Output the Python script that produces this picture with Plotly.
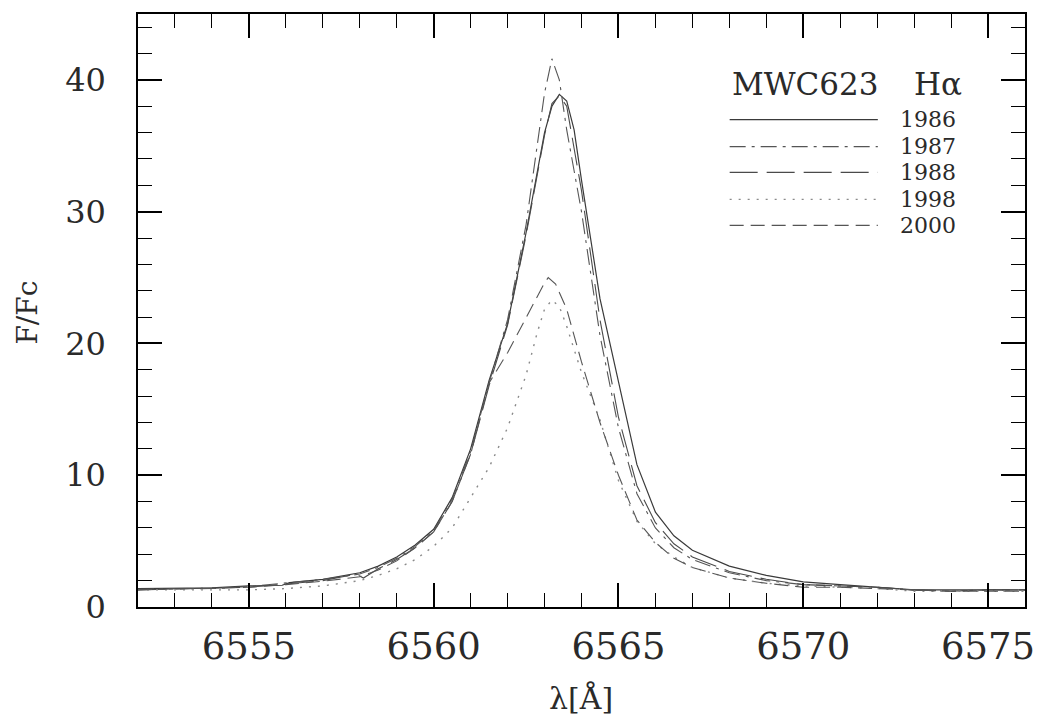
import plotly.graph_objects as go

# ---------------- data ----------------
wl_1986 = [6552, 6553, 6554, 6555, 6555.9, 6556.1, 6557, 6558, 6558.5, 6559, 6559.5, 6560, 6560.5,
           6561, 6561.5, 6562, 6562.5, 6563, 6563.2, 6563.4, 6563.6, 6563.8, 6564, 6564.5, 6565,
           6565.5, 6566, 6566.5, 6567, 6568, 6569, 6570, 6571, 6572, 6573, 6574, 6575, 6576]
f_1986 = [1.4, 1.4, 1.45, 1.6, 1.65, 1.85, 2.1, 2.6, 3.1, 3.8, 4.7, 5.9, 8.3,
          12.0, 17.2, 21.5, 28.4, 36.0, 38.0, 38.9, 38.4, 36.2, 32.4, 23.4, 17.0,
          10.8, 7.2, 5.4, 4.3, 3.1, 2.4, 1.9, 1.7, 1.5, 1.3, 1.3, 1.3, 1.3]

wl_1987 = [6552, 6553, 6554, 6555, 6556, 6557, 6558, 6558.5, 6559, 6559.5, 6560, 6560.5,
           6561, 6561.5, 6562, 6562.5, 6562.8, 6563, 6563.2, 6563.4, 6563.6, 6564, 6564.5, 6565,
           6565.5, 6566, 6566.5, 6567, 6568, 6569, 6570, 6571, 6572, 6573, 6574, 6575, 6576]
f_1987 = [1.35, 1.4, 1.4, 1.55, 1.8, 2.1, 2.5, 3.0, 3.7, 4.6, 5.8, 8.2,
          11.8, 17.0, 21.8, 29.0, 35.0, 39.0, 41.6, 40.0, 36.2, 30.0, 20.6, 13.6,
          8.6, 6.0, 4.5, 3.6, 2.6, 2.0, 1.7, 1.6, 1.5, 1.3, 1.2, 1.3, 1.3]

wl_1988 = [6552, 6553, 6554, 6555, 6556, 6557, 6557.9, 6558.1, 6558.5, 6559, 6559.5, 6560, 6560.5,
           6561, 6561.5, 6562, 6562.5, 6563, 6563.2, 6563.4, 6563.6, 6564, 6564.5, 6565,
           6565.5, 6566, 6566.5, 6567, 6568, 6569, 6570, 6571, 6572, 6573, 6574, 6575, 6576]
f_1988 = [1.3, 1.35, 1.4, 1.5, 1.75, 2.0, 2.5, 2.2, 2.9, 3.6, 4.5, 5.7, 8.0,
          11.6, 16.8, 21.4, 28.2, 35.8, 38.2, 38.8, 38.0, 31.6, 21.8, 14.4,
          9.2, 6.4, 4.8, 3.8, 2.7, 2.1, 1.7, 1.6, 1.5, 1.3, 1.2, 1.3, 1.3]

wl_1998 = [6552, 6553, 6554, 6555, 6556, 6557, 6558, 6558.5, 6559, 6559.5, 6560, 6560.5,
           6561, 6561.5, 6562, 6562.5, 6562.8, 6563, 6563.2, 6563.4, 6563.6, 6564, 6564.5, 6565,
           6565.5, 6566, 6566.5, 6567, 6568, 6569, 6570, 6571, 6572, 6573, 6574, 6575, 6576]
f_1998 = [1.3, 1.3, 1.3, 1.3, 1.4, 1.6, 2.0, 2.4, 2.9, 3.6, 4.6, 6.0,
          8.3, 10.6, 13.6, 17.6, 20.8, 22.6, 23.3, 22.8, 21.3, 17.8, 14.2, 9.6,
          6.5, 4.8, 3.8, 3.0, 2.2, 1.8, 1.6, 1.5, 1.4, 1.2, 1.2, 1.2, 1.2]

wl_2000 = [6552, 6553, 6554, 6555, 6556, 6557, 6558, 6558.5, 6559, 6559.5, 6560, 6560.5,
           6561, 6561.5, 6562, 6562.5, 6562.8, 6563, 6563.1, 6563.3, 6563.6, 6564, 6564.5, 6565,
           6565.5, 6566, 6566.5, 6567, 6568, 6569, 6570, 6571, 6572, 6573, 6574, 6575, 6576]
f_2000 = [1.3, 1.35, 1.4, 1.5, 1.7, 1.95, 2.3, 2.8, 3.5, 4.5, 5.7, 8.0,
          11.6, 17.0, 19.3, 22.0, 23.6, 24.6, 25.0, 24.5, 22.6, 18.6, 14.0, 10.0,
          6.6, 4.9, 3.7, 3.0, 2.2, 1.8, 1.5, 1.5, 1.4, 1.3, 1.2, 1.2, 1.2]

years = ["1986", "1987", "1988", "1998", "2000"]
wavelengths = [wl_1986, wl_1987, wl_1988, wl_1998, wl_2000]
fluxes = [f_1986, f_1987, f_1988, f_1998, f_2000]

x_range = [6552, 6576]
y_range = [0, 45]
x_ticks = [6555, 6560, 6565, 6570, 6575]
y_ticks = [0, 10, 20, 30, 40]

# ---------------- styles ----------------
dashes = ["solid", "16px,6px,3px,6px", "28px,9px", "2px,7px", "14px,7px"]
colors = ["#3a3a3a", "#555555", "#4a4a4a", "#8a8a8a", "#555555"]
widths = [1.2, 1.1, 1.1, 1.4, 1.1]

SERIF = "DejaVu Serif, Liberation Serif, serif"
TXT = "#2a2a2a"

fig = go.Figure()
for yr, wl, fl, d, c, w in zip(years, wavelengths, fluxes, dashes, colors, widths):
    fig.add_trace(go.Scatter(x=wl, y=fl, mode="lines", name=yr,
                             line=dict(color=c, width=w, dash=d), showlegend=False))

axis_common = dict(
    showline=True, linecolor="black", linewidth=1.5, mirror="allticks",
    ticks="inside", ticklen=24, tickwidth=1.5, tickcolor="black",
    showgrid=False, zeroline=False,
)

fig.update_xaxes(range=x_range, tickvals=x_ticks, ticklabelstandoff=6,
                 tickfont=dict(family=SERIF, size=37, color=TXT),
                 minor=dict(ticks="inside", ticklen=14, tickwidth=1.3, tickcolor="black", dtick=1, showgrid=False),
                 **axis_common)
fig.update_yaxes(range=y_range, tickvals=y_ticks, ticklabelstandoff=24,
                 tickfont=dict(family=SERIF, size=32, color=TXT),
                 minor=dict(ticks="inside", ticklen=14, tickwidth=1.3, tickcolor="black", dtick=2, showgrid=False),
                 **axis_common)

W, H = 1047, 722
L, R, T, B = 138, 17, 12, 115
pw, ph = W - L - R, H - T - B


def px_x(px):
    return (px - L) / pw


def px_y(py):
    return (H - B - py) / ph


annotations = [
    dict(text="λ[Å]", x=px_x(583), y=px_y(699), xref="paper", yref="paper", showarrow=False,
         xanchor="center", yanchor="middle", font=dict(family=SERIF, size=30, color=TXT)),
    dict(text="F/Fc", x=px_x(27), y=px_y(312), xref="paper", yref="paper", textangle=-90,
         showarrow=False, xanchor="center", yanchor="middle",
         font=dict(family=SERIF, size=28, color=TXT)),
    dict(text="MWC623", x=px_x(733), y=px_y(82), xref="paper", yref="paper",
         xanchor="left", yanchor="middle", showarrow=False,
         font=dict(family=SERIF, size=31, color=TXT)),
    dict(text="Hα", x=px_x(916), y=px_y(82), xref="paper", yref="paper",
         xanchor="left", yanchor="middle", showarrow=False,
         font=dict(family=SERIF, size=31, color=TXT)),
]

legend_y = [118, 145, 171, 198, 224]
shapes = []
for yr, ly, d, c in zip(years, legend_y, dashes, colors):
    shapes.append(dict(type="line", xref="paper", yref="paper",
                       x0=px_x(733), x1=px_x(882), y0=px_y(ly), y1=px_y(ly),
                       line=dict(color=c, width=1.2, dash=d)))
    annotations.append(dict(text=yr, x=px_x(902), y=px_y(ly), xref="paper", yref="paper",
                            xanchor="left", yanchor="middle", showarrow=False,
                            font=dict(family=SERIF, size=22, color=TXT)))

fig.update_layout(
    width=W, height=H,
    margin=dict(l=L, r=R, t=T, b=B),
    paper_bgcolor="white", plot_bgcolor="white",
    annotations=annotations, shapes=shapes,
    showlegend=False,
)

fig.write_html("out.html", config={"displayModeBar": False},
               post_script="document.body.style.margin='0px';")
